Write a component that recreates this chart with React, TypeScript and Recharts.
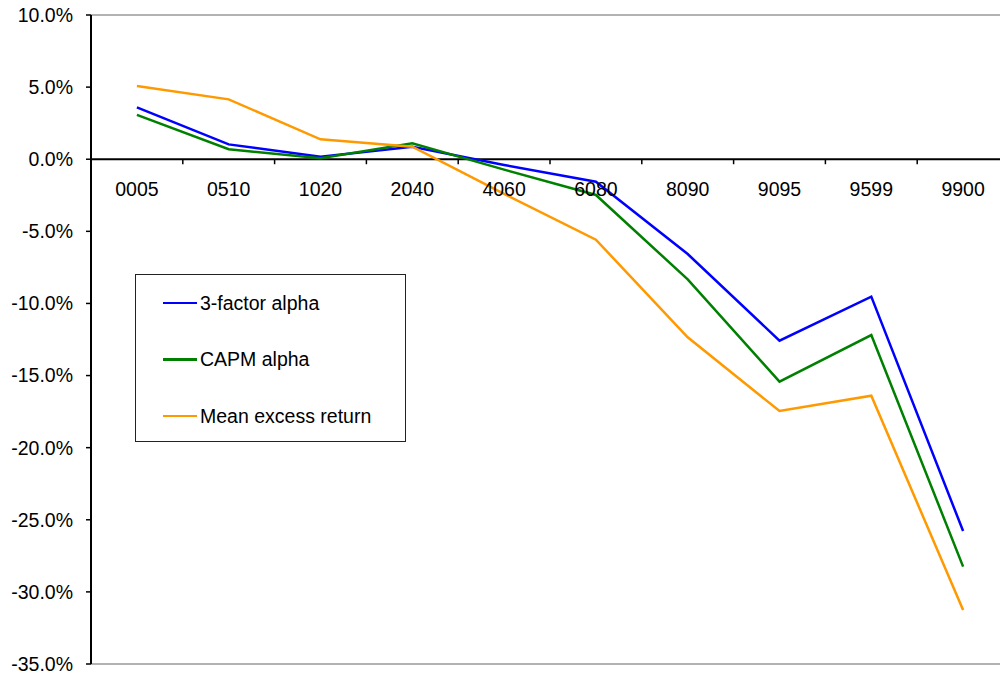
import React from 'react';
import { LineChart, Line, XAxis, YAxis, ReferenceLine, Legend } from 'recharts';

const categories = ['0005', '0510', '1020', '2040', '4060', '6080', '8090', '9095', '9599', '9900'];
const threeFactorAlpha = [3.6, 1.03, 0.18, 0.87, -0.4, -1.56, -6.57, -12.58, -9.53, -25.78];
const capmAlpha = [3.07, 0.69, 0.06, 1.1, -0.72, -2.48, -8.33, -15.42, -12.19, -28.25];
const meanExcessReturn = [5.08, 4.15, 1.38, 0.87, -2.4, -5.58, -12.35, -17.46, -16.4, -31.26];
const yTicks = [-35, -30, -25, -20, -15, -10, -5, 0, 5, 10];
const Y_MIN = -35;
const Y_MAX = 10;

const data = categories.map((c, i) => ({
  cat: c,
  a3: threeFactorAlpha[i],
  capm: capmAlpha[i],
  mer: meanExcessReturn[i],
}));

const FONT = '"Liberation Sans", Arial, sans-serif';
const FS = 19.5;

const CHART_W = 1010;
const CHART_H = 679;
const X_H = 1;
const MARGIN = { top: 15, right: 1, bottom: 14, left: 0 };
const Y_W = 91;
const PLOT_W = CHART_W - MARGIN.left - MARGIN.right - Y_W;
const PLOT_H = CHART_H - MARGIN.top - MARGIN.bottom - X_H;
const ZERO_FROM_BOTTOM = (PLOT_H * (0 - Y_MIN)) / (Y_MAX - Y_MIN);
const BAND = PLOT_W / categories.length;

function XTick(props: any) {
  const { x, y, payload, index } = props;
  const zeroY = y - ZERO_FROM_BOTTOM;
  return (
    <g>
      <line x1={x - BAND / 2} x2={x - BAND / 2} y1={zeroY} y2={zeroY + 5} stroke="#000" strokeWidth={1.5} />
      {index === categories.length - 1 && (
        <line x1={x + BAND / 2} x2={x + BAND / 2} y1={zeroY} y2={zeroY + 5} stroke="#000" strokeWidth={1.5} />
      )}
      <text x={x} y={zeroY + 37} textAnchor="middle" fill="#000" fontSize={FS} fontFamily={FONT}>
        {payload.value}
      </text>
    </g>
  );
}

function LegendBox(props: any) {
  const { payload } = props;
  return (
    <div
      style={{
        width: 271,
        height: 168,
        border: '1.5px solid #222',
        boxSizing: 'border-box',
        position: 'relative',
        background: '#fff',
        fontFamily: FONT,
        fontSize: FS,
        color: '#000',
      }}
    >
      {(payload || []).map((p: any, i: number) => (
        <div
          key={p.value}
          style={{ position: 'absolute', left: 27, top: 28 + i * 56.4 - 13, height: 26, display: 'flex', alignItems: 'center' }}
        >
          <div style={{ width: 34, height: 2.5, background: p.color, marginRight: 3 }} />
          <span style={{ whiteSpace: 'pre', lineHeight: '26px' }}>{p.value}</span>
        </div>
      ))}
    </div>
  );
}

export default function App() {
  return (
    <div style={{ position: 'fixed', left: 0, top: 0, width: 1000, height: 679, overflow: 'hidden', background: '#fff' }}>
      <LineChart width={CHART_W} height={CHART_H} data={data} margin={MARGIN}>
        <XAxis
          dataKey="cat"
          height={X_H}
          padding={{ left: BAND / 2, right: BAND / 2 }}
          axisLine={false}
          tickLine={false}
          tickSize={0}
          tickMargin={0}
          interval={0}
          tick={<XTick />}
        />
        <YAxis
          width={Y_W}
          domain={[Y_MIN, Y_MAX]}
          ticks={yTicks}
          interval={0}
          tickFormatter={(v: number) => `${v.toFixed(1)}%`}
          axisLine={{ stroke: '#000', strokeWidth: 2 }}
          tickLine={{ stroke: '#000', strokeWidth: 1.5 }}
          tickSize={5}
          tickMargin={13}
          tick={{ fill: '#000', fontSize: FS, fontFamily: FONT }}
        />
        <ReferenceLine y={Y_MAX} stroke="#999" strokeWidth={1.5} />
        <ReferenceLine y={Y_MIN} stroke="#999" strokeWidth={1.5} />
        <ReferenceLine y={0} stroke="#000" strokeWidth={2} />
        <Line type="linear" dataKey="a3" name="3-factor alpha" stroke="#0000FF" strokeWidth={2.5} dot={false} isAnimationActive={false} />
        <Line type="linear" dataKey="capm" name="CAPM alpha" stroke="#008000" strokeWidth={2.5} dot={false} isAnimationActive={false} />
        <Line type="linear" dataKey="mer" name="Mean excess return" stroke="#FF9900" strokeWidth={2.5} dot={false} isAnimationActive={false} />
        <Legend
          layout="vertical"
          align="center"
          verticalAlign="middle"
          content={<LegendBox />}
          wrapperStyle={{ position: 'absolute', left: 135, top: 274, width: 271, height: 168 }}
        />
      </LineChart>
    </div>
  );
}
